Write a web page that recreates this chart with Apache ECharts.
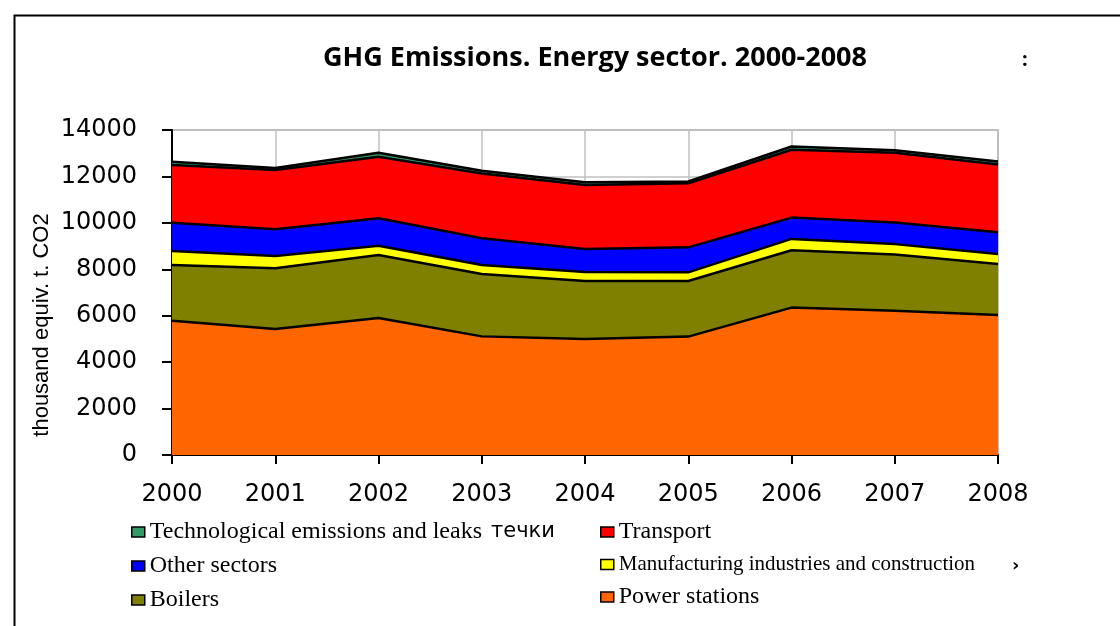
<!DOCTYPE html>
<html>
<head>
<meta charset="utf-8">
<script src="https://cdn.jsdelivr.net/npm/echarts@6/dist/echarts.min.js"></script>
<style>
html,body{margin:0;padding:0;background:#fff;}
#c{width:1120px;height:626px;}
</style>
</head>
<body>
<div id="c"></div>
<script>
const years = ['2000','2001','2002','2003','2004','2005','2006','2007','2008'];
const powerStations = [5780, 5430, 5900, 5110, 5000, 5100, 6350, 6210, 6030];
const boilers = [2405, 2612, 2715, 2687, 2495, 2395, 2473, 2429, 2197];
const manufacturing = [603, 530, 401, 388, 388, 374, 485, 445, 430];
const otherSectors = [1218, 1149, 1180, 1151, 991, 1076, 918, 930, 935];
const transport = [2486, 2556, 2654, 2793, 2757, 2758, 2924, 3010, 2925];
const technological = [140, 90, 170, 115, 115, 80, 140, 100, 130];
const yTicks = {min: 0, max: 14000, interval: 2000};

const names = {
  tech: 'Technological emissions and leaks',
  transport: 'Transport',
  other: 'Other sectors',
  manuf: 'Manufacturing industries and construction',
  boilers: 'Boilers',
  power: 'Power stations'
};

function areaSeries(name, data, color) {
  return {
    name: name, type: 'line', stack: 'total', data: data,
    symbol: 'none', showSymbol: false,
    lineStyle: {color: '#000', width: 2.5},
    itemStyle: {color: color},
    areaStyle: {color: color, opacity: 1},
    emphasis: {disabled: true}
  };
}

const chart = echarts.init(document.getElementById('c'), null, {renderer: 'canvas'});
const legendCommon = {
  orient: 'vertical', icon: 'rect', itemWidth: 13, itemHeight: 10, itemGap: 10, padding: 0,
  itemStyle: {borderColor: '#000', borderWidth: 1.5},
  textStyle: {fontFamily: 'Liberation Serif', fontSize: 24, color: '#000',
    rich: {s: {fontFamily: 'Liberation Serif', fontSize: 21, color: '#000'}}},
  formatter: function (n) { return n === names.manuf ? '{s|' + n + '}' : n; },
  selectedMode: false
};
chart.setOption({
  animation: false,
  backgroundColor: '#fff',
  title: {
    text: 'GHG Emissions. Energy sector. 2000-2008',
    left: 590, textAlign: 'center', top: 40,
    textStyle: {fontFamily: 'Open Sans', fontWeight: 'bold', fontSize: 27, color: '#000'}
  },
  grid: {left: 172, right: 122, top: 130, bottom: 171, show: true, borderColor: '#a0a0a0', borderWidth: 1.5},
  legend: [
    Object.assign({}, legendCommon, {left: 131, top: 520, data: [names.tech, names.other, names.boilers]}),
    Object.assign({}, legendCommon, {left: 600, top: 520, data: [names.transport, names.manuf, names.power]})
  ],
  xAxis: {
    type: 'category', data: years, boundaryGap: false,
    axisLine: {lineStyle: {color: '#000', width: 2}},
    axisTick: {show: true, length: 9, lineStyle: {color: '#000', width: 2}},
    axisLabel: {fontFamily: 'DejaVu Sans', fontSize: 24, color: '#000', margin: 28},
    splitLine: {show: true, lineStyle: {color: '#c0c0c0', width: 1.5}}
  },
  yAxis: {
    type: 'value', min: yTicks.min, max: yTicks.max, interval: yTicks.interval,
    axisLine: {show: true, lineStyle: {color: '#000', width: 2}},
    axisTick: {show: true, length: 10, lineStyle: {color: '#000', width: 2}},
    axisLabel: {fontFamily: 'DejaVu Sans', fontSize: 24, color: '#000', margin: 35,
                formatter: function (v) { return String(v); }},
    splitLine: {show: true, lineStyle: {color: '#c0c0c0', width: 1.5}}
  },
  series: [
    areaSeries(names.power, powerStations, '#FF6600'),
    areaSeries(names.boilers, boilers, '#808000'),
    areaSeries(names.manuf, manufacturing, '#FFFF00'),
    areaSeries(names.other, otherSectors, '#0000FF'),
    areaSeries(names.transport, transport, '#FF0000'),
    areaSeries(names.tech, technological, '#339966')
  ],
  graphic: [
    {type: 'rect', left: 12, top: 13, shape: {width: 1200, height: 700},
     style: {fill: null, stroke: '#000', lineWidth: 2}, silent: true},
    {type: 'text', x: 42, y: 325, rotation: Math.PI / 2,
     style: {text: 'thousand equiv. t. CO2', fontFamily: 'Liberation Sans', fontSize: 22, fill: '#000',
             align: 'center', verticalAlign: 'middle'}},
    {type: 'text', x: 491, y: 532,
     style: {text: 'течки', fontFamily: 'DejaVu Sans', fontSize: 21, fill: '#000', verticalAlign: 'middle'}},
    {type: 'text', x: 1012, y: 566,
     style: {text: '›', fontFamily: 'DejaVu Sans', fontWeight: 'bold', fontSize: 18, fill: '#000', verticalAlign: 'middle'}},
    {type: 'text', x: 1022, y: 60,
     style: {text: ':', fontFamily: 'Open Sans', fontWeight: 'bold', fontSize: 20, fill: '#000', verticalAlign: 'middle'}}
  ]
});
</script>
</body>
</html>
